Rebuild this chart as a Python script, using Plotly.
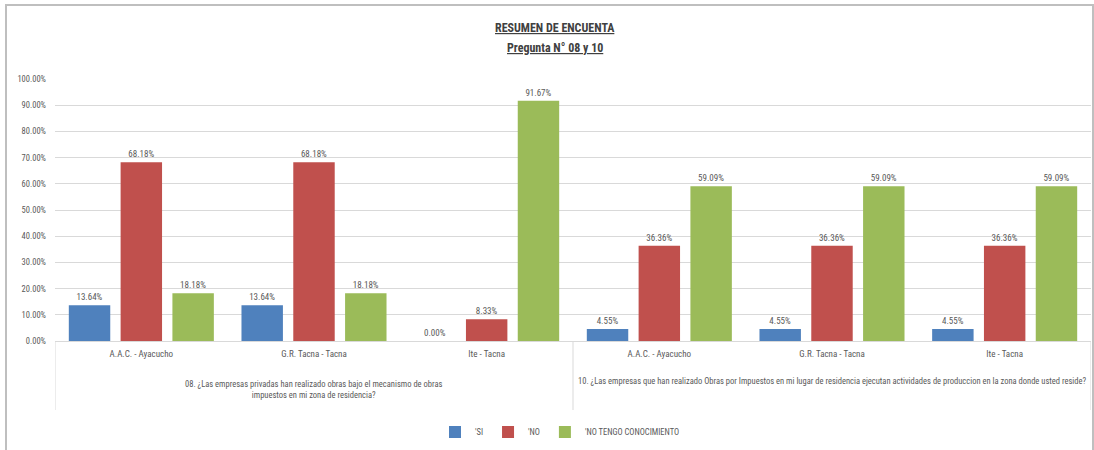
import plotly.graph_objects as go

questions = [
    "08. ¿Las empresas privadas han realizado obras bajo el mecanismo de obras<br>impuestos en mi zona de residencia?",
    "10. ¿Las empresas que han realizado Obras por Impuestos en mi lugar de residencia ejecutan actividades de produccion en la zona donde usted reside?",
]
entities = ["A.A.C. - Ayacucho", "G.R. Tacna - Tacna", "Ite - Tacna"]

si = [0.1364, 0.1364, 0.0000, 0.0455, 0.0455, 0.0455]
no = [0.6818, 0.6818, 0.0833, 0.3636, 0.3636, 0.3636]
no_tengo = [0.1818, 0.1818, 0.9167, 0.5909, 0.5909, 0.5909]

series_names = ["'SI", "'NO", "'NO TENGO CONOCIMIENTO"]
colors = ["#4F81BD", "#C0504D", "#9BBB59"]

tick_labels = entities * len(questions)
xpos = list(range(len(tick_labels)))
n_ent = len(entities)

FONT = "Roboto Condensed, Liberation Sans Narrow, Roboto, sans-serif"
GRAY = "#595959"
LINE = "#D9D9D9"

# plot-area geometry (pixels) used to express paper coordinates
L, R, T, B = 55, 3, 79, 109
PW, PH = 1094 - L - R, 450 - T - B


def py(pix):
    return (450 - B - pix) / PH


def px(pix):
    return (pix - L) / PW


fig = go.Figure()
for name, vals, col in zip(series_names, [si, no, no_tengo], colors):
    fig.add_trace(go.Bar(
        x=xpos, y=vals, name=name,
        marker=dict(color=col, line=dict(width=0)),
        texttemplate="%{y:.2%}", textposition="outside",
        textfont=dict(size=9, color=GRAY, family=FONT),
        cliponaxis=False,
    ))

annotations = [
    dict(text="<b><u>RESUMEN DE ENCUENTA</u></b>", xref="paper", yref="paper",
         x=px(555), y=py(28), xanchor="center", yanchor="middle",
         showarrow=False, font=dict(size=12, color="#404040")),
    dict(text="<b><u>Pregunta N° 08 y 10</u></b>", xref="paper", yref="paper",
         x=px(555), y=py(48), xanchor="center", yanchor="middle",
         showarrow=False, font=dict(size=12, color="#404040")),
]
group_y = [py(389), py(381)]
for gi, q in enumerate(questions):
    idx = xpos[gi * n_ent:(gi + 1) * n_ent]
    annotations.append(dict(
        text=q, xref="x", yref="paper", x=sum(idx) / len(idx), y=group_y[gi],
        xanchor="center", yanchor="middle",
        showarrow=False, font=dict(size=8.5, color=GRAY), align="center"))

shapes = []
for gi in range(len(questions) + 1):
    shapes.append(dict(type="line", xref="x", yref="paper",
                       x0=gi * n_ent - 0.5, x1=gi * n_ent - 0.5,
                       y0=0, y1=py(410), line=dict(color=LINE, width=1)))
shapes.append(dict(type="rect", xref="paper", yref="paper",
                   x0=px(6), x1=px(1093), y0=py(455), y1=py(5),
                   line=dict(color="#BFBFBF", width=2)))

fig.update_layout(
    width=1094, height=450,
    paper_bgcolor="white", plot_bgcolor="white",
    margin=dict(l=L, r=R, t=T, b=B, autoexpand=False),
    barmode="group", bargap=0.1, bargroupgap=0.2,
    font=dict(family=FONT, size=9, color=GRAY),
    showlegend=True,
    legend=dict(orientation="h", x=px(560), xanchor="center", y=py(432), yanchor="middle",
                font=dict(size=8.5, color=GRAY), itemwidth=30,
                traceorder="normal"),
    yaxis=dict(range=[0, 1.0], dtick=0.1, tickformat=".2%", showgrid=True,
               gridcolor=LINE, gridwidth=1, zeroline=False, showline=False,
               ticks="", ticklabelstandoff=8,
               tickfont=dict(size=8.5, color=GRAY), automargin=False),
    xaxis=dict(tickmode="array", tickvals=xpos, ticktext=tick_labels,
               range=[-0.5, len(xpos) - 0.5], showline=True, linecolor=LINE,
               showgrid=False, zeroline=False, ticks="", ticklabelstandoff=4,
               tickfont=dict(size=9, color=GRAY), automargin=False),
    annotations=annotations,
    shapes=shapes,
)

fig.write_html("out.html", config={"displayModeBar": False},
               post_script="document.body.style.margin='0';document.body.style.overflow='hidden';")
